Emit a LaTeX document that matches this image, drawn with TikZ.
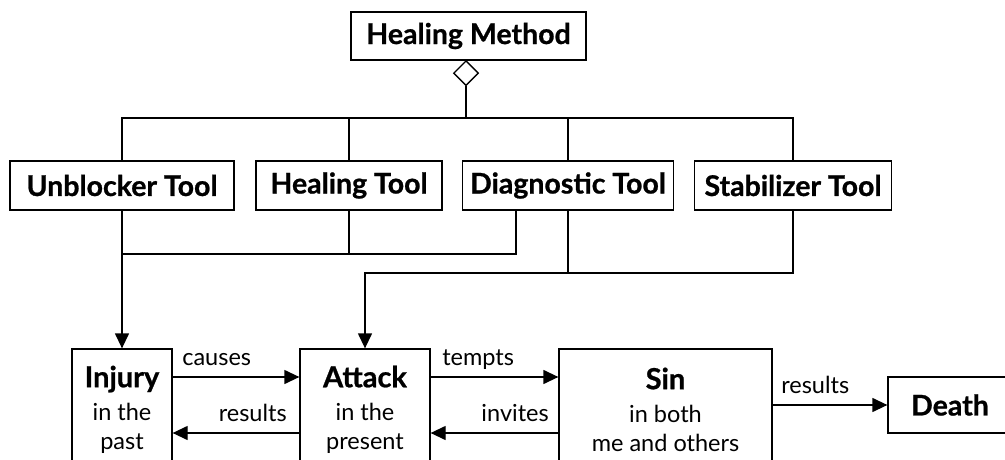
\documentclass[tikz,border=0pt]{standalone}
\usepackage{fontspec}
\setmainfont{Lato}[BoldFeatures={FakeBold=0.8}]
\usetikzlibrary{arrows.meta,shapes.geometric}
\begin{document}
\begin{tikzpicture}[x=1pt,y=-1pt,
  box/.style={draw, line width=1.3pt, inner sep=0pt, align=center},
  head/.style={font=\fontsize{28.5}{32}\selectfont\bfseries},
  body/.style={font=\fontsize{23.5}{29}\selectfont},
  lbl/.style={font=\fontsize{23.5}{26}\selectfont, inner sep=0pt},
  conn/.style={line width=1.3pt},
  arr/.style={conn, -{Triangle[length=15pt,width=14pt]}}]
\useasboundingbox (0,0) rectangle (1005,460);
\clip (0,0) rectangle (1005,460);
% top
\node[box, head, minimum width=235pt, minimum height=48pt] (hm) at (468.5,36) {Healing Method};
\node[draw, conn, diamond, inner sep=0pt, minimum width=25pt, minimum height=25pt, anchor=north] (dia) at (466,60) {};
% tools
\node[box, head, minimum width=224pt, minimum height=49pt] (ub) at (122,185.5) {Unblocker Tool};
\node[box, head, minimum width=186pt, minimum height=49pt] (ht) at (349,185.5) {Healing Tool};
\node[box, head, minimum width=211pt, minimum height=49pt] (dt) at (568,185.5) {Diagnostic Tool};
\node[box, head, minimum width=197pt, minimum height=49pt] (st) at (793,185.5) {Stabilizer Tool};
% bottom
\node[box, body, minimum width=100pt, minimum height=121pt] (inj) at (122,409.5) {{\fontsize{29}{31}\selectfont\bfseries Injury}\\[4pt] in the\\ past};
\node[box, body, minimum width=130pt, minimum height=121pt] (att) at (365,409.5) {{\fontsize{29}{31}\selectfont\bfseries Attack}\\[4pt] in the\\ present};
\node[box, body, minimum width=213pt, minimum height=121pt] (sin) at (665.5,409.5) {{\fontsize{29}{31}\selectfont\bfseries Sin}\\[4pt] in both\\ me and others};
\node[box, head, minimum width=124pt, minimum height=56pt] (dea) at (950,405) {Death};
% coordinates
\coordinate (bus) at (0,118);
\coordinate (low1) at (0,254);
\coordinate (low2) at (0,273);
\coordinate (dtl) at (516,210);
% top bus
\draw[conn] (dia.south) -- (dia.south |- bus);
\draw[conn] (ub.north) |- (st.north |- bus) -- (st.north);
\draw[conn] (ht.north) -- (ht.north |- bus);
\draw[conn] (dt.north) -- (dt.north |- bus);
% lower connections
\draw[arr] (ub.south) -- (inj.north);
\draw[conn] (ht.south) |- (ub.south |- low1);
\draw[conn] (dtl) |- (ht.south |- low1);
\draw[conn] (dt.south) -- (dt.south |- low2);
\draw[arr] (st.south) |- (att.north |- low2) -- (att.north);
% bottom flow
\draw[arr] (inj.east |- 0,377) -- node[lbl, pos=0, anchor=base west, xshift=9pt, yshift=12pt] {causes} (att.west |- 0,377);
\draw[arr] (att.west |- 0,433) -- node[lbl, pos=0, anchor=base east, xshift=-12pt, yshift=12pt] {results} (inj.east |- 0,433);
\draw[arr] (att.east |- 0,377) -- node[lbl, pos=0, anchor=base west, xshift=11pt, yshift=12pt] {tempts} (sin.west |- 0,377);
\draw[arr] (sin.west |- 0,433) -- node[lbl, pos=0, anchor=base east, xshift=-9pt, yshift=12pt] {invites} (att.east |- 0,433);
\draw[arr] (sin.east |- dea.west) -- node[lbl, pos=0, anchor=base west, xshift=8pt, yshift=12pt] {results} (dea.west);
\end{tikzpicture}
\end{document}
